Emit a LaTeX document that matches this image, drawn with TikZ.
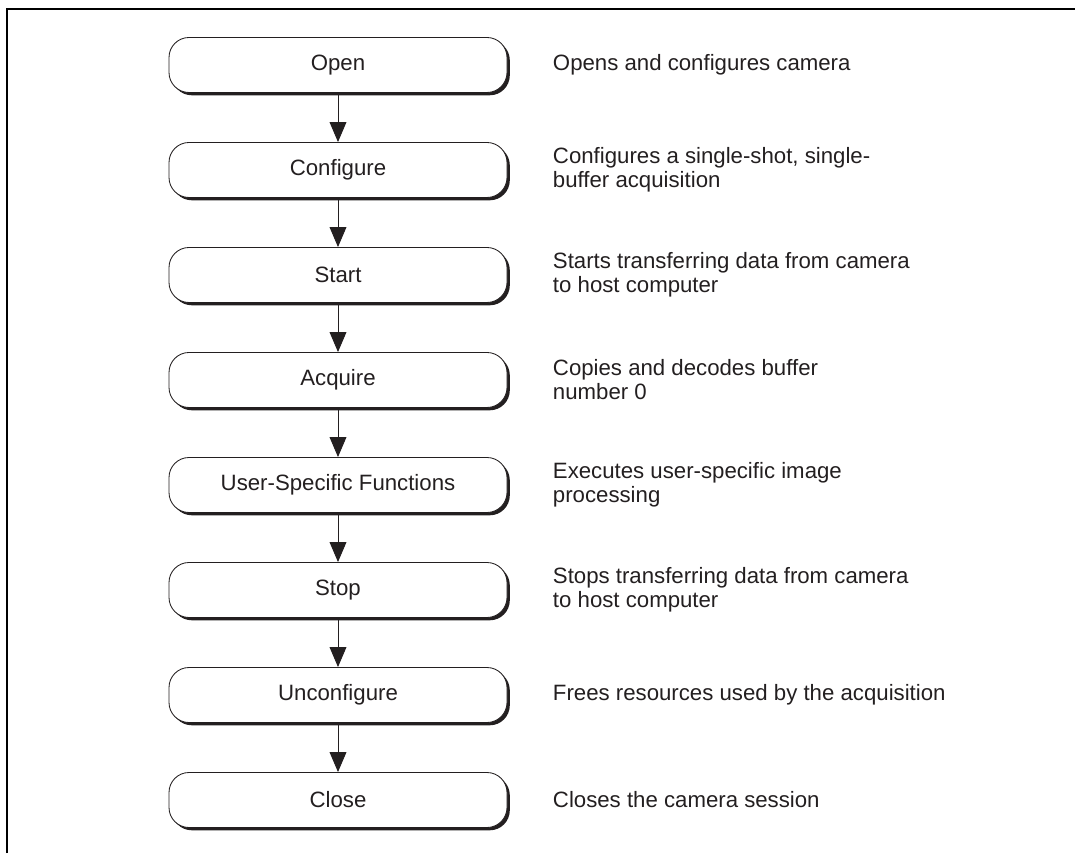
\documentclass[tikz,border=0pt]{standalone}
\usepackage{fontspec}
\setmainfont{Liberation Sans}
\usetikzlibrary{arrows.meta,shadows}
\definecolor{Ink}{HTML}{231F20}

\begin{document}
\begin{tikzpicture}[every node/.style={font=\fontsize{15.8}{17}\selectfont,text=Ink},step box/.style={draw=Ink,line width=0.6pt,fill=white,rounded corners=0.5cm,minimum width=8.45cm,minimum height=1.375cm,drop shadow={shadow xshift=0.07cm,shadow yshift=-0.07cm,opacity=1,fill=Ink}},note/.style={anchor=west,align=left},arrow/.style={-{Triangle[length=0.5cm,width=0.42cm]},line width=0.7pt,draw=Ink}]
\useasboundingbox (0,0) rectangle (26.875,21.325);
\draw[line width=1.5pt] (0.175,0)--(0.175,21.1)--(26.875,21.1);

\node[step box] (open) at (8.45,19.7) {Open}; \node[note] (open-txt) at (13.7,19.7) {Opens and configures camera};
\node[step box] (configure) at (8.45,17.075) {Configure}; \node[note] (configure-txt) at (13.7,17.075) {Configures a single-shot, single-\\buffer acquisition};
\node[step box] (start) at (8.45,14.45) {Start}; \node[note] (start-txt) at (13.7,14.45) {Starts transferring data from camera\\to host computer};
\node[step box] (acquire) at (8.45,11.825) {Acquire}; \node[note] (acquire-txt) at (13.7,11.825) {Copies and decodes buffer\\number 0};
\node[step box] (user) at (8.45,9.2) {User-Specific Functions}; \node[note] (user-txt) at (13.7,9.2) {Executes user-specific image\\processing};
\node[step box] (stop) at (8.45,6.575) {Stop}; \node[note] (stop-txt) at (13.7,6.575) {Stops transferring data from camera\\to host computer};
\node[step box] (unconfigure) at (8.45,3.95) {Unconfigure}; \node[note] (unconfigure-txt) at (13.7,3.95) {Frees resources used by the acquisition};
\node[step box] (close) at (8.45,1.325) {Close}; \node[note] (close-txt) at (13.7,1.325) {Closes the camera session};

\foreach \a/\b in {open/configure,configure/start,start/acquire,acquire/user,user/stop,stop/unconfigure,unconfigure/close}
  \draw[arrow] (\a.south)--(\b.north);

\end{tikzpicture}
\end{document}
